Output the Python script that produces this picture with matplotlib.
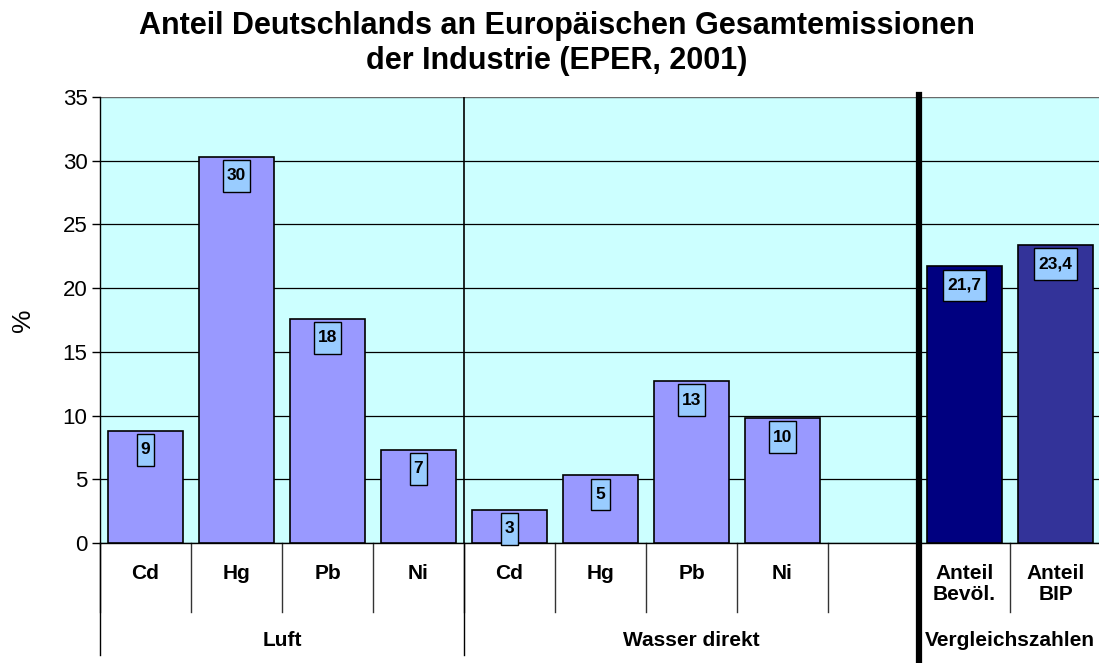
import numpy as np
import matplotlib.pyplot as plt
from matplotlib.path import Path

plt.rcParams['font.family'] = ['Liberation Sans', 'DejaVu Sans']

# Daten (Anteil in %)
kategorien = ['Cd', 'Hg', 'Pb', 'Ni', 'Cd', 'Hg', 'Pb', 'Ni', '', 'Anteil\nBevöl.', 'Anteil\nBIP']
werte = [8.8, 30.3, 17.6, 7.3, 2.6, 5.3, 12.7, 9.8, np.nan, 21.7, 23.4]
beschriftung = ['9', '30', '18', '7', '3', '5', '13', '10', '', '21,7', '23,4']
farben = ['#9999FF'] * 9 + ['#000080', '#333399']
gruppen = ['Luft', 'Wasser direkt', 'Vergleichszahlen']
gruppen_text_x = [1.5, 6.0, 9.5]


def hohe_box(x0, y0, width, height, mutation_size):
    # Rechteck mit wenig Rand links/rechts, viel Rand oben/unten (wie Excel)
    px_, py_ = 0.24 * mutation_size, 0.48 * mutation_size
    x0, x1 = x0 - px_, x0 + width + px_
    y0, y1 = y0 - py_, y0 + height + py_
    return Path([(x0, y0), (x1, y0), (x1, y1), (x0, y1), (x0, y0)], closed=True)


fig = plt.figure(figsize=(10.99, 6.63), dpi=100)
ax = fig.add_axes([100 / 1099, 1 - 543 / 663, 1001 / 1099, 446 / 663])
ax.set_facecolor('#CCFFFF')

x = np.arange(len(kategorien))
ax.bar(x, werte, width=0.835, color=farben, edgecolor='black', linewidth=1.2, zorder=3)

for xi, v, t in zip(x, werte, beschriftung):
    if not t:
        continue
    ax.annotate(t, (xi, v), xytext=(0, -19), textcoords='offset pixels',
                ha='center', va='center', fontsize=12.5, fontweight='bold', zorder=5,
                bbox=dict(boxstyle=hohe_box, fc='#99CCFF', ec='black', lw=1))

ax.set_xlim(-0.5, 10.5)
ax.set_ylim(0, 35)
ax.set_yticks(np.arange(0, 36, 5))
ax.tick_params(axis='y', labelsize=16, length=6, width=1, pad=3, direction='out')
ax.set_xticks([])
ax.yaxis.grid(True, color='black', lw=0.9)
ax.set_axisbelow(True)
for s in ['top', 'right']:
    ax.spines[s].set_visible(False)
ax.spines['left'].set_linewidth(1)
ax.spines['bottom'].set_linewidth(1)
ax.axhline(35, color='gray', lw=1.2, zorder=2)
ax.set_ylabel('%', fontsize=19, labelpad=20)

tr = ax.get_xaxis_transform()
px = 1 / 446  # ein Pixel in Achsenhoehe

# Trennlinien unter der Achse
for b in np.arange(-0.5, 11, 1):
    ax.plot([b, b], [0, -69 * px], transform=tr, color='#333333', lw=1, clip_on=False)
for b in [-0.5, 3.5]:
    ax.plot([b, b], [0, -112 * px], transform=tr, color='black', lw=1, clip_on=False)
ax.plot([3.5, 3.5], [0, 1], transform=tr, color='black', lw=1.2, zorder=4)
ax.plot([8.5, 8.5], [1 + 2 * px, -125 * px], transform=tr, color='black', lw=4.5,
        clip_on=False, zorder=6)

for xi, k in zip(x, kategorien):
    ax.annotate(k, (xi, 0), xycoords=tr, xytext=(0, -21), textcoords='offset pixels',
                ha='center', va='top', fontsize=15, fontweight='bold', linespacing=1.15)
for gx, g in zip(gruppen_text_x, gruppen):
    ax.annotate(g, (gx, 0), xycoords=tr, xytext=(0, -97), textcoords='offset pixels',
                ha='center', va='center', fontsize=15, fontweight='bold')

fig.text(557 / 1099, 1 - 11 / 663,
         'Anteil Deutschlands an Europäischen Gesamtemissionen\nder Industrie (EPER, 2001)',
         ha='center', va='top', fontsize=22, fontweight='bold', linespacing=1.2)

fig.savefig('out.png', dpi=100)
